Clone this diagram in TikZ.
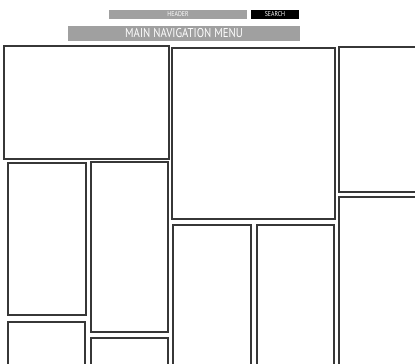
\documentclass[tikz,border=0pt]{standalone}
\usepackage{fontspec}
\setmainfont{PT Sans}
\newfontfamily\barfont[FakeStretch=0.84]{PT Sans}
\definecolor{barg}{RGB}{160,160,160}
\definecolor{edge}{RGB}{55,55,55}
\tikzset{
  panel/.style={draw=edge, line width=1.4pt, fill=white, rectangle, inner sep=0pt, outer sep=0pt, anchor=north west},
  bar/.style={fill=barg, rectangle, inner sep=0pt, outer sep=0pt, anchor=north west, text=white},
  smalltext/.style={font=\barfont\fontsize{7}{8}\selectfont},
  bigtext/.style={font=\barfont\fontsize{12.8}{14}\selectfont},
}
\begin{document}
\begin{tikzpicture}[x=1pt,y=-1pt]
\useasboundingbox (0,0) rectangle (415,364);
\clip (0,0) rectangle (415,364);
\fill[white] (0,0) rectangle (415,364);
% header bars
\node[bar, minimum width=138pt, minimum height=9pt, smalltext] (header) at (109,10) {HEADER};
\node[bar, fill=black, minimum width=48pt, minimum height=9pt, smalltext] (search) at (251,10) {SEARCH};
\node[bar, minimum width=232pt, minimum height=15pt, bigtext] (nav) at (68,26) {MAIN NAVIGATION MENU};
% panels
\node[panel, minimum width=165pt, minimum height=113pt] (p1) at (4,46) {};
\node[panel, minimum width=163pt, minimum height=171pt] (p2) at (172,48) {};
\node[panel, minimum width=90pt, minimum height=145pt] (p3) at (339,47) {};
\node[panel, minimum width=90pt, minimum height=190pt] (p4) at (339,197) {};
\node[panel, minimum width=78pt, minimum height=152pt] (p5) at (8,163) {};
\node[panel, minimum width=77pt, minimum height=170pt] (p6) at (91,162) {};
\node[panel, minimum width=77pt, minimum height=60pt] (p7) at (8,322) {};
\node[panel, minimum width=77pt, minimum height=60pt] (p8) at (91,338) {};
\node[panel, minimum width=78pt, minimum height=160pt] (p9) at (173,225) {};
\node[panel, minimum width=77pt, minimum height=160pt] (p10) at (257,225) {};
\end{tikzpicture}
\end{document}
